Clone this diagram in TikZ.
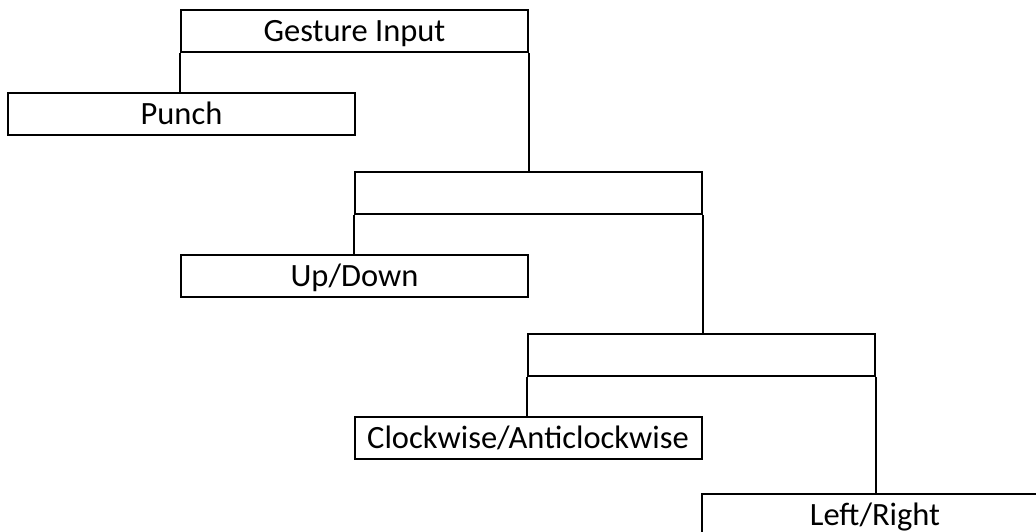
\documentclass[tikz,border=0pt]{standalone}
\usepackage{fontspec}
\setmainfont{Carlito}
\begin{document}
\begin{tikzpicture}[x=1pt,y=-1pt,
  box/.style={draw=black, line width=2pt, rectangle, minimum width=347pt, minimum height=42pt,
    inner sep=0pt, font=\fontsize{32.5}{38}\selectfont, text height=23.5pt, text depth=2pt},
  link/.style={draw=black, line width=2pt}]
\useasboundingbox (0,0) rectangle (1036,531);
\clip (0,0) rectangle (1036,531);
\node[box] (h1) at (354.5,31) {Gesture Input};
\node[box] (punch) at (181.5,114) {Punch};
\node[box] (h2) at (528,193) {};
\node[box] (updown) at (354.5,276) {Up/Down};
\node[box] (h3) at (701.5,355) {};
\node[box] (clock) at (528,438) {Clockwise/Anticlockwise};
\node[box] (lr) at (875,515) {Left/Right};
\draw[link] (h1.south west) -- (h1.south west |- punch.north);
\draw[link] (h1.south east) -- (h1.south east |- h2.north);
\draw[link] (h2.south west) -- (h2.south west |- updown.north);
\draw[link] (h2.south east) -- (h2.south east |- h3.north);
\draw[link] (h3.south west) -- (h3.south west |- clock.north);
\draw[link] (h3.south east) -- (h3.south east |- lr.north);
\end{tikzpicture}
\end{document}
